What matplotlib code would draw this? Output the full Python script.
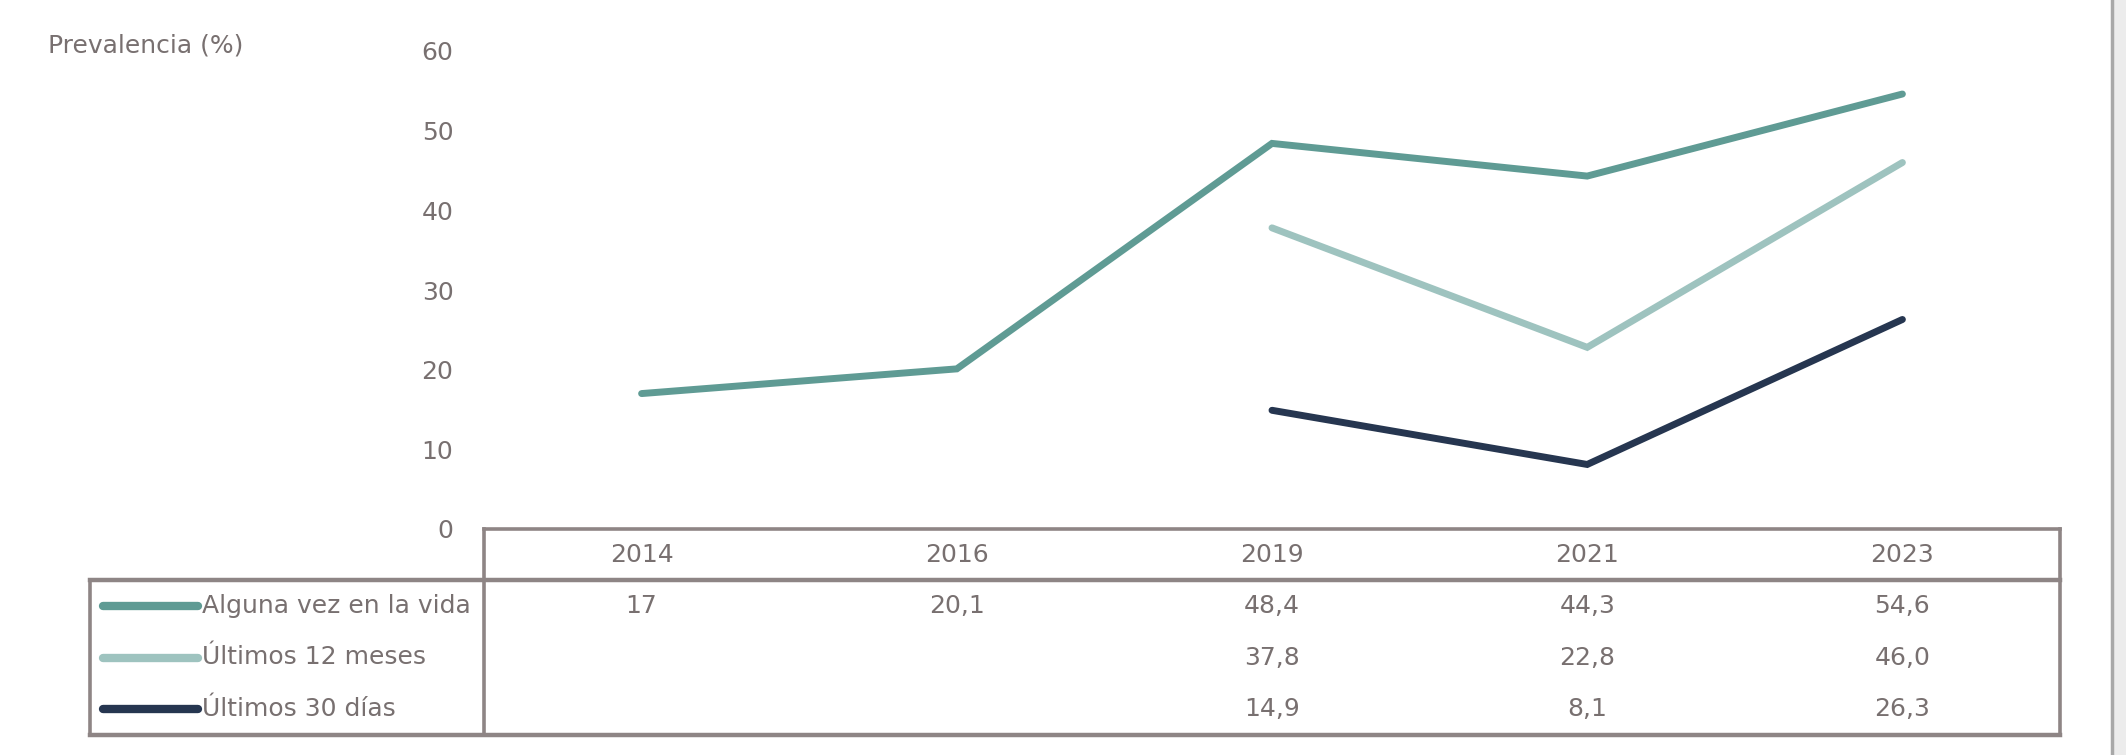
import numpy as np
import matplotlib
matplotlib.use("Agg")
import matplotlib.pyplot as plt
from matplotlib.lines import Line2D
import matplotlib.transforms as mtransforms

plt.rcParams['font.family'] = ['Liberation Sans Narrow', 'DejaVu Sans']

# data
years = ['2014', '2016', '2019', '2021', '2023']
alguna_vez = [17, 20.1, 48.4, 44.3, 54.6]
ultimos_12 = [np.nan, np.nan, 37.8, 22.8, 46.0]
ultimos_30 = [np.nan, np.nan, 14.9, 8.1, 26.3]
alguna_vez_lbl = ['17', '20,1', '48,4', '44,3', '54,6']
ultimos_12_lbl = ['', '', '37,8', '22,8', '46,0']
ultimos_30_lbl = ['', '', '14,9', '8,1', '26,3']
series_names = ['Alguna vez en la vida', 'Últimos 12 meses', 'Últimos 30 días']
y_ticks = [0, 10, 20, 30, 40, 50, 60]

colors = ['#5f9b94', '#9ec3bf', '#263650']
text_col = '#787070'
border_col = '#8e8585'
fs = 18

W, H = 2126, 755
fig = plt.figure(figsize=(W / 100, H / 100), dpi=100)
fig.patch.set_facecolor('white')

def fx(px):
    return px / W

def fy(py):
    return 1 - py / H

ax_left, ax_right = 484, 2060
ax_top, ax_bot = 51, 529
ax = fig.add_axes([fx(ax_left), fy(ax_bot), fx(ax_right - ax_left), (ax_bot - ax_top) / H])

x = np.arange(len(years))
all_series = [alguna_vez, ultimos_12, ultimos_30]
for vals, c in zip(all_series, colors):
    ax.plot(x, vals, color=c, lw=5, solid_capstyle='round', solid_joinstyle='miter')

ax.set_xlim(-0.5, len(years) - 0.5)
ax.set_ylim(0, 60)
ax.set_yticks(y_ticks)
ax.set_yticklabels([str(t) for t in y_ticks], fontsize=fs, color=text_col)
ax.tick_params(axis='y', length=0, pad=22)
ax.set_xticks([])
for s in ax.spines.values():
    s.set_visible(False)
ax.patch.set_alpha(0)

fig.text(fx(48), fy(45), 'Prevalencia (%)', fontsize=fs, color=text_col, va='center', ha='left')

# table drawn under the axis
tab_left, tab_div, tab_right = 90, ax_left, ax_right
hdr_top, hdr_bot, tab_bot = ax_bot, 580, 735
lw_b = 2.6

def fline(x0, x1, y0, y1, lw=lw_b):
    fig.add_artist(Line2D([fx(x0), fx(x1)], [fy(y0), fy(y1)], color=border_col, lw=lw,
                          transform=fig.transFigure, solid_capstyle='projecting'))

fline(tab_div, tab_right, hdr_top, hdr_top)
fline(tab_left, tab_right, hdr_bot, hdr_bot, lw=3.2)
fline(tab_left, tab_right, tab_bot, tab_bot, lw=3.2)
fline(tab_left, tab_left, hdr_bot, tab_bot)
fline(tab_div, tab_div, hdr_top, tab_bot)
fline(tab_right, tab_right, hdr_top, tab_bot)

blend = mtransforms.blended_transform_factory(ax.transData, fig.transFigure)
for i, yr in enumerate(years):
    ax.text(i, fy((hdr_top + hdr_bot) / 2), yr, transform=blend, ha='center', va='center',
            fontsize=fs, color=text_col, clip_on=False)

row_h = (tab_bot - hdr_bot) / 3
labels = [alguna_vez_lbl, ultimos_12_lbl, ultimos_30_lbl]
for r, (name, lbls, c) in enumerate(zip(series_names, labels, colors)):
    yc = hdr_bot + row_h * (r + 0.5)
    fig.add_artist(Line2D([fx(103), fx(198)], [fy(yc), fy(yc)], color=c, lw=6,
                          transform=fig.transFigure, solid_capstyle='round'))
    fig.text(fx(202), fy(yc), name, fontsize=fs, color=text_col, va='center', ha='left')
    for i, lb in enumerate(lbls):
        ax.text(i, fy(yc), lb, transform=blend, ha='center', va='center',
                fontsize=fs, color=text_col, clip_on=False)

# outer frame on the right
fig.add_artist(Line2D([fx(2112), fx(2112)], [0, 1], color='#a8a8a8', lw=2.5, transform=fig.transFigure))
fig.add_artist(plt.Rectangle((fx(2114), 0), 1 - fx(2114), 1, color='#ececec',
                             transform=fig.transFigure, zorder=-1))

fig.savefig('out.png', dpi=100)
